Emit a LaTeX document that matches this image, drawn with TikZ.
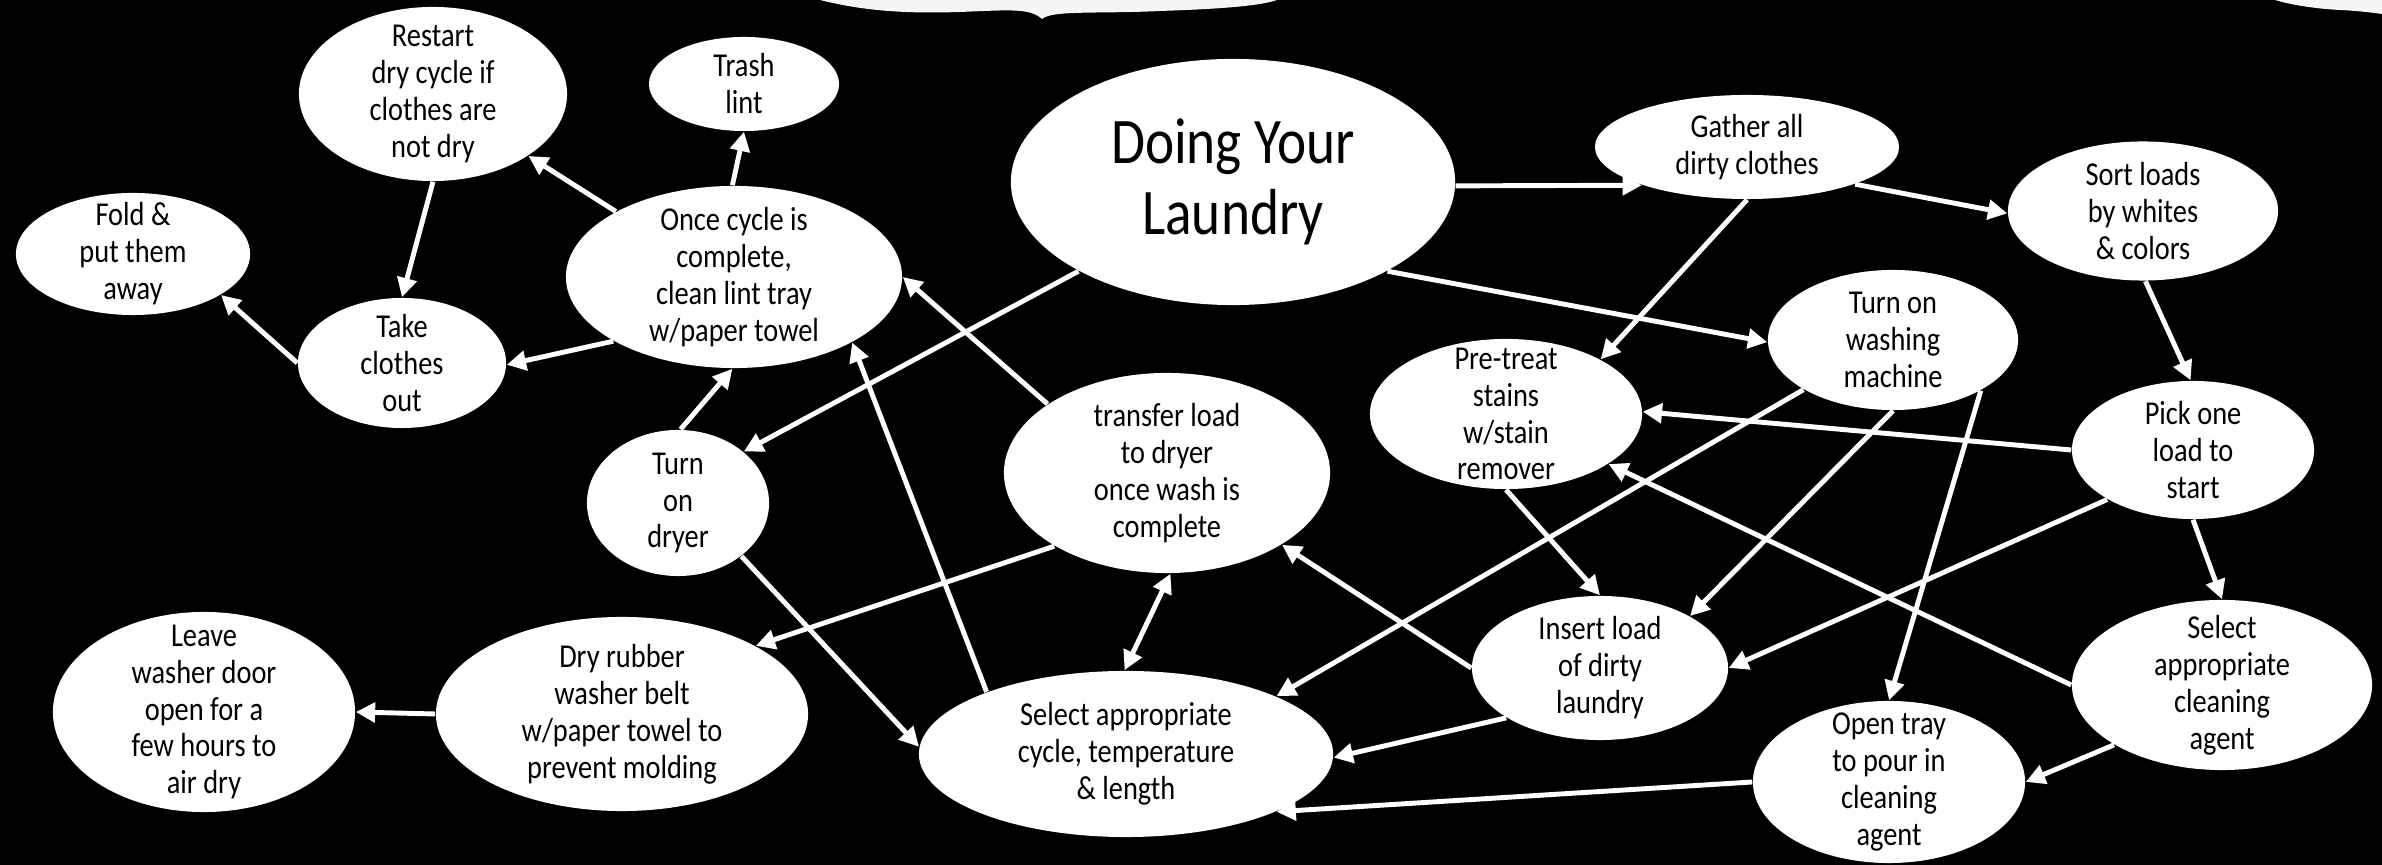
\documentclass[tikz,border=0pt]{standalone}
\usepackage{fontspec}
\setmainfont{Carlito}[FakeStretch=0.85]
\usetikzlibrary{shapes.geometric,arrows.meta}

\begin{document}
\begin{tikzpicture}[x=0.01cm, y=-0.01cm,
    bolla/.style 2 args={ellipse, fill=white, text=black, align=center,
        minimum width=#1, minimum height=#2, inner xsep=0pt, inner ysep=-8pt,
        font=\fontsize{9.5}{10.5}\selectfont},
    freccia/.style={white, line width=1.4pt, ->},
    >={Triangle[length=5.5pt, width=5.5pt]}]

        % Sfondo nero e carta strappata in alto
        \useasboundingbox (0,0) rectangle (2382,865);
        \fill[black] (0,0) rectangle (2382,865);
        \fill[gray!8] (820,0) .. controls (860,10) and (900,14) .. (960,12)
            .. controls (1010,10) and (1030,8) .. (1042,19)
            .. controls (1052,10) and (1100,14) .. (1160,11)
            .. controls (1220,9) and (1260,6) .. (1277,0) -- cycle;
        \fill[gray!8] (2275,0) .. controls (2295,6) and (2320,9) .. (2340,10)
            .. controls (2360,11) and (2375,13) .. (2382,14) -- (2382,0) -- cycle;

        % Lavaggio
        \node[bolla={4.44cm}{2.46cm}, font=\fontsize{18.5}{20}\selectfont] (laundry) at (1233,182) {Doing Your\\Laundry};
        \node[bolla={3.04cm}{1.04cm}] (gather) at (1747,147) {Gather all\\dirty clothes};
        \node[bolla={2.70cm}{1.39cm}] (sort) at (2143,211) {Sort loads\\by whites\\\& colors};
        \node[bolla={2.50cm}{1.40cm}] (washer) at (1893,340) {Turn on\\washing\\machine};
        \node[bolla={2.72cm}{1.50cm}] (pretreat) at (1506,414) {Pre-treat\\stains\\w/stain\\remover};
        \node[bolla={2.42cm}{1.38cm}] (pick) at (2193,450) {Pick one\\load to\\start};
        \node[bolla={3.00cm}{1.70cm}] (agent) at (2222,685) {Select\\appropriate\\cleaning\\agent};
        \node[bolla={2.72cm}{1.62cm}] (tray) at (1889,782) {Open tray\\to pour in\\cleaning\\agent};
        \node[bolla={2.56cm}{1.44cm}] (insert) at (1600,668) {Insert load\\of dirty\\laundry};
        \node[bolla={4.14cm}{1.66cm}] (cycle) at (1126,754) {Select appropriate\\cycle, temperature\\\& length};

        % Asciugatura
        \node[bolla={3.26cm}{2.00cm}] (transfer) at (1167,473) {transfer load\\to dryer\\once wash is\\complete};
        \node[bolla={1.82cm}{1.46cm}] (dryer) at (678,503) {Turn\\on\\dryer};
        \node[bolla={3.72cm}{1.94cm}] (rubber) at (622,714) {Dry rubber\\washer belt\\w/paper towel to\\prevent molding};
        \node[bolla={3.02cm}{2.00cm}] (door) at (204,712) {Leave\\washer door\\open for a\\few hours to\\air dry};
        \node[bolla={3.36cm}{1.82cm}] (lint) at (734,277) {Once cycle is\\complete,\\clean lint tray\\w/paper towel};
        \node[bolla={2.08cm}{1.30cm}] (takeout) at (402,363) {Take\\clothes\\out};
        \node[bolla={2.34cm}{1.22cm}] (fold) at (133,254) {Fold \&\\put them\\away};
        \node[bolla={2.68cm}{1.74cm}] (restart) at (433,94) {Restart\\dry cycle if\\clothes are\\not dry};
        \node[bolla={1.90cm}{0.94cm}] (trash) at (744,84) {Trash\\lint};

        % Frecce
        \draw[freccia] (laundry.-1) -- (gather.200);
        \draw[freccia] (gather.-19) -- (sort.181);
        \draw[freccia] (laundry.-30) -- (washer.181);
        \draw[freccia] (gather.-90) -- (pretreat.30);
        \draw[freccia] (sort.-88) -- (pick.92);
        \draw[freccia] (pick.180) -- (pretreat.1);
        \draw[freccia] (pick.-90) -- (agent.90);
        \draw[freccia] (pick.210) -- (insert.0);
        \draw[freccia] (agent.209) -- (tray.0);
        \draw[freccia] (agent.180) -- (pretreat.-26);
        \draw[freccia] (washer.-90) -- (insert.30);
        \draw[freccia] (washer.209) -- (cycle.21);
        \draw[freccia] (washer.-30) -- (tray.90);
        \draw[freccia] (pretreat.-90) -- (insert.90);
        \draw[freccia] (insert.208) -- (cycle.-1);
        \draw[freccia] (insert.180) -- (transfer.-32);
        \draw[freccia] (tray.180) -- (cycle.-21);
        \draw[freccia, <->] (transfer.-88) -- (cycle.91);
        \draw[freccia] (transfer.150) -- (lint.0);
        \draw[freccia] (transfer.213) -- (rubber.27);
        \draw[freccia] (cycle.156) -- (lint.-29);
        \draw[freccia] (laundry.210) -- (dryer.38);
        \draw[freccia] (dryer.-40) -- (cycle.178);
        \draw[freccia] (dryer.88) -- (lint.-91);
        \draw[freccia] (lint.91) -- (trash.-90);
        \draw[freccia] (lint.151) -- (restart.-33);
        \draw[freccia] (lint.208) -- (takeout.-1);
        \draw[freccia] (restart.-90) -- (takeout.90);
        \draw[freccia] (takeout.180) -- (fold.-25);
        \draw[freccia] (rubber.180) -- (door.0);

\end{tikzpicture}
\end{document}
